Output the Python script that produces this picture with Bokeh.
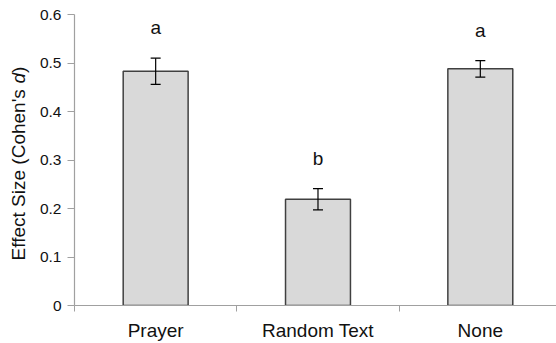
import math
from bokeh.plotting import figure
from bokeh.layouts import row
from bokeh.models import ColumnDataSource, Whisker, TeeHead, FixedTicker, Range1d
from bokeh.core.properties import value
from bokeh.embed import file_html
from bokeh.resources import INLINE

# ---- data ----
categories = ["Prayer", "Random Text", "None"]
effect_size = [0.483, 0.219, 0.488]
error = [0.027, 0.022, 0.017]
letters = ["a", "b", "a"]
y_ticks = [0, 0.1, 0.2, 0.3, 0.4, 0.5, 0.6]
y_tick_labels = ["0", "0.1", "0.2", "0.3", "0.4", "0.5", "0.6"]
y_title_parts = ["Effect Size (Cohen's ", "d", ")"]
y_title_styles = ["normal", "italic", "normal"]

FONT = "Liberation Sans"
W, H = 556, 343
LAB_W = 36
LEFT, TOP, BOTTOM = 72, 14, 38
CAT_PX = 163
x_end = (W - LEFT) / CAT_PX

xs = [i + 0.5 for i in range(len(categories))]
upper = [v + e for v, e in zip(effect_size, error)]
lower = [v - e for v, e in zip(effect_size, error)]
letter_y = [u + 0.063 for u in upper]

src = ColumnDataSource(dict(x=xs, top=effect_size, upper=upper, lower=lower,
                            letter=letters, ly=letter_y))

yr = Range1d(0, 0.6)
p = figure(width=W - LAB_W, height=H, x_range=Range1d(0, x_end), y_range=yr,
           output_backend="svg", toolbar_location=None,
           min_border_left=LEFT - LAB_W, min_border_right=0, min_border_top=TOP,
           min_border_bottom=BOTTOM)
p.outline_line_color = None
p.xgrid.visible = False
p.ygrid.visible = False

p.vbar(x="x", top="top", width=0.4, source=src, fill_color="#d9d9d9",
       line_color="#404040", line_width=1.5)

head_u = TeeHead(size=10, line_color="black", line_width=1.2)
head_l = TeeHead(size=10, line_color="black", line_width=1.2)
p.add_layout(Whisker(base="x", upper="upper", lower="lower", source=src,
                     line_color="black", line_width=1.2,
                     upper_head=head_u, lower_head=head_l, level="annotation"))

p.text(x="x", y="ly", text="letter", source=src, text_align="center",
       text_baseline="middle", text_font=value(FONT), text_font_size="19px",
       text_color="#111111")

# x axis
xa = p.xaxis[0]
xa.ticker = FixedTicker(ticks=xs, minor_ticks=list(range(len(categories) + 1)))
xa.major_label_overrides = {x: c for x, c in zip(xs, categories)}
xa.major_tick_out = 0
xa.major_tick_in = 0
xa.minor_tick_out = 6
xa.minor_tick_in = 0
xa.minor_tick_line_color = "#a0a0a0"
xa.axis_line_color = "#a0a0a0"
xa.axis_line_width = 1.2
xa.major_label_text_font = FONT
xa.major_label_text_font_size = "19px"
xa.major_label_text_color = "#111111"
xa.major_label_standoff = 8

# y axis
ya = p.yaxis[0]
ya.ticker = FixedTicker(ticks=y_ticks, minor_ticks=[])
ya.major_label_overrides = {t: l for t, l in zip(y_ticks, y_tick_labels)}
ya.major_tick_out = 7
ya.major_tick_in = 0
ya.major_tick_line_color = "#a0a0a0"
ya.axis_line_color = "#a0a0a0"
ya.axis_line_width = 1.2
ya.major_label_text_font = FONT
ya.major_label_text_font_size = "15.5px"
ya.major_label_text_color = "#111111"
ya.major_label_standoff = 6

# y axis title (separate narrow figure so the italic "d" can be drawn)
lf = figure(width=LAB_W, height=H, x_range=Range1d(0, 1), y_range=yr,
            output_backend="svg", toolbar_location=None,
            min_border_left=0, min_border_right=0, min_border_top=TOP,
            min_border_bottom=BOTTOM)
lf.axis.visible = False
lf.grid.visible = False
lf.outline_line_color = None

fs = 19
px_per_unit = (H - TOP - BOTTOM) / 0.6
w_part1 = 9.306 * fs
w_part2 = 0.556 * fs
y0 = 0.093
starts = [y0, y0 + w_part1 / px_per_unit, y0 + (w_part1 + w_part2) / px_per_unit]
for txt, style, yy in zip(y_title_parts, y_title_styles, starts):
    lf.text(x=[18 / LAB_W], y=[yy], text=[txt], angle=math.pi / 2,
            text_font=value(FONT), text_font_size=f"{fs}px", text_font_style=style,
            text_align="left", text_baseline="middle", text_color="#111111")

layout = row(lf, p, spacing=0)
open("out.html", "w").write(file_html(layout, INLINE))
